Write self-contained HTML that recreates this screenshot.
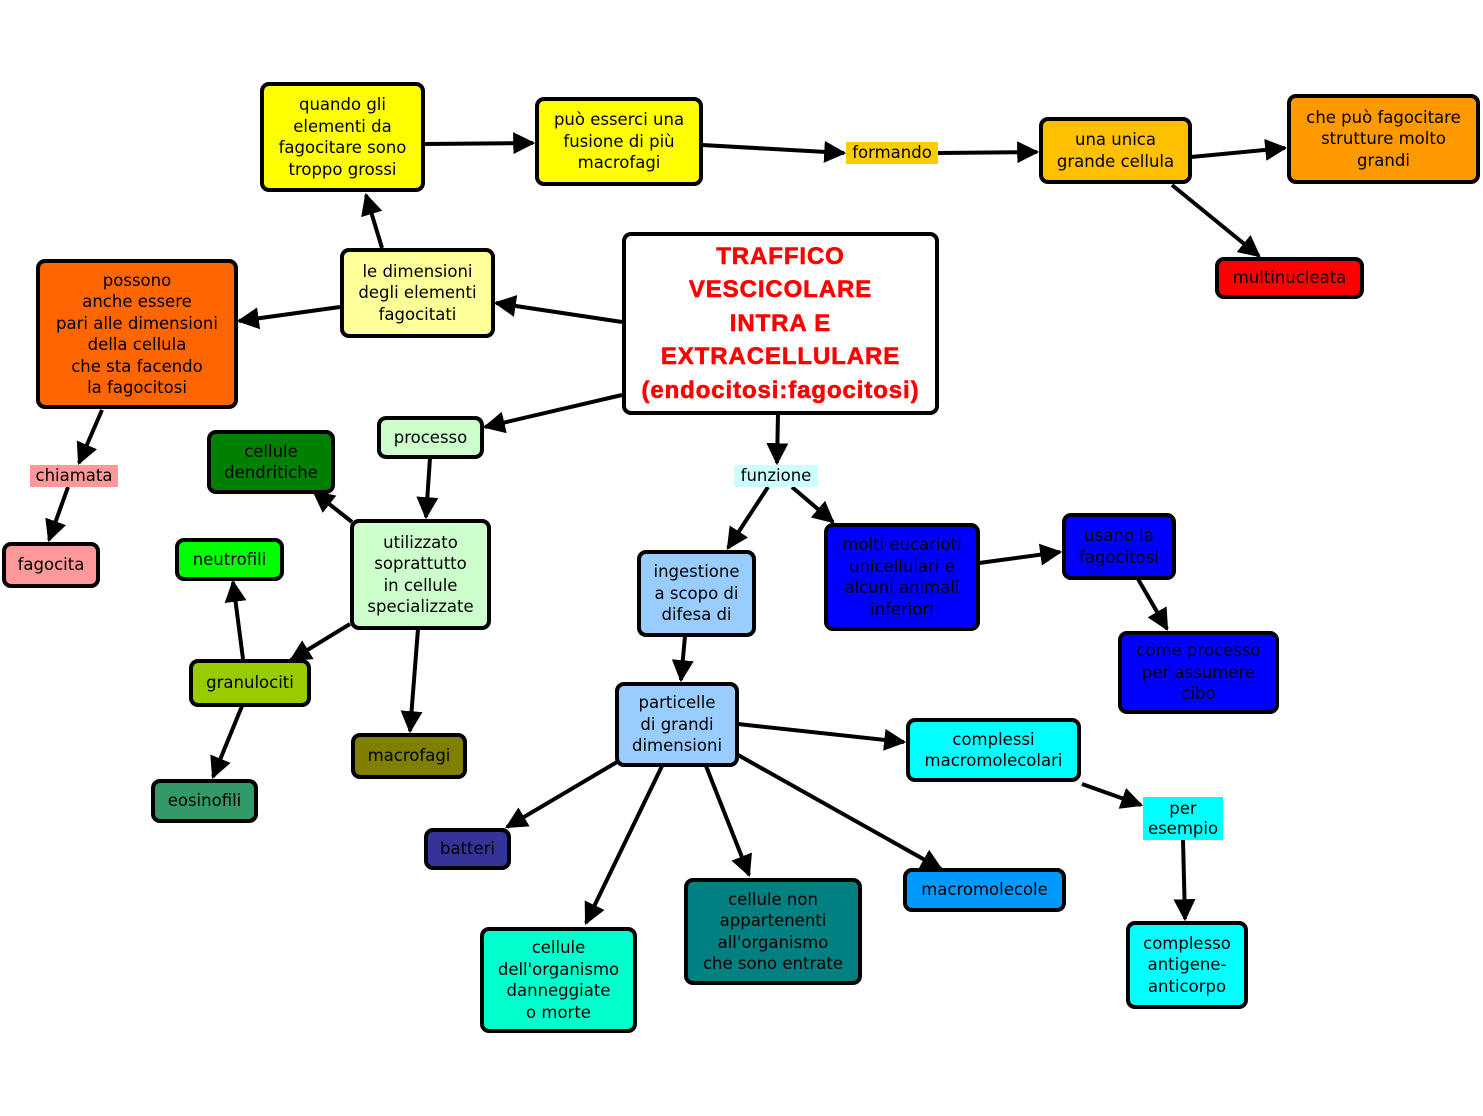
<!DOCTYPE html>
<html><head><meta charset="utf-8"><style>
html,body{margin:0;padding:0;background:#fff;}
body{width:1483px;height:1116px;position:relative;overflow:hidden;font-family:"DejaVu Sans","Liberation Sans",sans-serif;}
.n{position:absolute;box-sizing:border-box;border:4px solid #000;border-radius:9px;display:flex;align-items:center;justify-content:center;text-align:center;font-size:16.5px;line-height:21.5px;color:#000;}
.l{position:absolute;display:flex;align-items:center;justify-content:center;text-align:center;font-size:16.5px;line-height:20px;color:#000;}
svg{position:absolute;left:0;top:0;}
</style></head><body>
<svg width="1483" height="1116">
<defs><marker id="a" viewBox="0 0 10 10" refX="9" refY="5" markerWidth="5.5" markerHeight="5.5" orient="auto" markerUnits="strokeWidth"><path d="M0,0 L10,5 L0,10 z" fill="#000"/></marker></defs>
<g stroke="#000" stroke-width="4" fill="none" marker-end="url(#a)">
<line x1="424" y1="144" x2="533" y2="143"/>
<line x1="702" y1="145" x2="844" y2="153"/>
<line x1="938" y1="153" x2="1037" y2="152"/>
<line x1="1191" y1="157" x2="1285" y2="148"/>
<line x1="1172" y1="185" x2="1259" y2="256"/>
<line x1="382" y1="248" x2="366" y2="195"/>
<line x1="622" y1="322" x2="496" y2="303"/>
<line x1="340" y1="307" x2="239" y2="321"/>
<line x1="102" y1="410" x2="79" y2="463"/>
<line x1="68" y1="487" x2="49" y2="540"/>
<line x1="622" y1="395" x2="485" y2="427"/>
<line x1="430" y1="458" x2="426" y2="517"/>
<line x1="352" y1="522" x2="314" y2="492"/>
<line x1="350" y1="624" x2="291" y2="660"/>
<line x1="418" y1="629" x2="410" y2="731"/>
<line x1="243" y1="659" x2="233" y2="582"/>
<line x1="242" y1="706" x2="213" y2="777"/>
<line x1="778" y1="414" x2="777" y2="463"/>
<line x1="768" y1="487" x2="728" y2="548"/>
<line x1="792" y1="487" x2="833" y2="522"/>
<line x1="979" y1="563" x2="1060" y2="552"/>
<line x1="1138" y1="579" x2="1167" y2="629"/>
<line x1="685" y1="636" x2="681" y2="680"/>
<line x1="738" y1="724" x2="904" y2="742"/>
<line x1="1082" y1="784" x2="1141" y2="805"/>
<line x1="1183" y1="840" x2="1185" y2="919"/>
<line x1="617" y1="762" x2="507" y2="827"/>
<line x1="662" y1="766" x2="586" y2="923"/>
<line x1="706" y1="766" x2="749" y2="875"/>
<line x1="738" y1="755" x2="941" y2="869"/>
</g></svg>

<div class="n" style="left:260px;top:82px;width:165px;height:110px;background:#ffff00">quando gli<br>elementi da<br>fagocitare sono<br>troppo grossi</div>
<div class="n" style="left:535px;top:97px;width:168px;height:89px;background:#ffff00">può esserci una<br>fusione di più<br>macrofagi</div>
<div class="l" style="left:846px;top:142px;width:92px;height:22px;background:#ffcc00">formando</div>
<div class="n" style="left:1039px;top:117px;width:153px;height:67px;background:#ffc000">una unica<br>grande cellula</div>
<div class="n" style="left:1287px;top:94px;width:193px;height:90px;background:#ff9900">che può fagocitare<br>strutture molto<br>grandi</div>
<div class="n" style="left:1215px;top:257px;width:149px;height:42px;background:#ff0000">multinucleata</div>
<div class="n" style="left:622px;top:232px;width:317px;height:183px;background:#fff;color:#ff0000;font-family:'Liberation Sans',sans-serif;font-weight:bold;font-size:24px;letter-spacing:0.9px;-webkit-text-stroke:0.6px #ff0000;line-height:33.5px">TRAFFICO<br>VESCICOLARE<br>INTRA E<br>EXTRACELLULARE<br>(endocitosi:fagocitosi)</div>
<div class="n" style="left:340px;top:248px;width:155px;height:90px;background:#ffff99">le dimensioni<br>degli elementi<br>fagocitati</div>
<div class="n" style="left:36px;top:259px;width:202px;height:150px;background:#ff6600">possono<br>anche essere<br>pari alle dimensioni<br>della cellula<br>che sta facendo<br>la fagocitosi</div>
<div class="l" style="left:30px;top:465px;width:88px;height:22px;background:#ff9999">chiamata</div>
<div class="n" style="left:2px;top:542px;width:98px;height:46px;background:#ff9999">fagocita</div>
<div class="n" style="left:377px;top:416px;width:107px;height:43px;background:#ccffcc">processo</div>
<div class="n" style="left:207px;top:430px;width:128px;height:64px;background:#008000">cellule<br>dendritiche</div>
<div class="n" style="left:350px;top:519px;width:141px;height:111px;background:#ccffcc">utilizzato<br>soprattutto<br>in cellule<br>specializzate</div>
<div class="n" style="left:175px;top:538px;width:109px;height:43px;background:#00ff00">neutrofili</div>
<div class="n" style="left:189px;top:659px;width:122px;height:48px;background:#99cc00">granulociti</div>
<div class="n" style="left:351px;top:733px;width:116px;height:46px;background:#808000">macrofagi</div>
<div class="n" style="left:151px;top:779px;width:107px;height:44px;background:#339966">eosinofili</div>
<div class="l" style="left:734px;top:465px;width:84px;height:22px;background:#ccffff">funzione</div>
<div class="n" style="left:637px;top:550px;width:119px;height:87px;background:#99ccff">ingestione<br>a scopo di<br>difesa di</div>
<div class="n" style="left:824px;top:523px;width:156px;height:108px;background:#0000ff">molti eucarioti<br>unicellulari e<br>alcuni animali<br>inferiori</div>
<div class="n" style="left:1062px;top:513px;width:114px;height:67px;background:#0000ff">usano la<br>fagocitosi</div>
<div class="n" style="left:1118px;top:631px;width:161px;height:83px;background:#0000ff">come processo<br>per assumere<br>cibo</div>
<div class="n" style="left:615px;top:682px;width:124px;height:85px;background:#99ccff">particelle<br>di grandi<br>dimensioni</div>
<div class="n" style="left:906px;top:718px;width:175px;height:64px;background:#00ffff">complessi<br>macromolecolari</div>
<div class="l" style="left:1143px;top:797px;width:80px;height:43px;background:#00ffff">per<br>esempio</div>
<div class="n" style="left:1126px;top:921px;width:122px;height:88px;background:#00ffff">complesso<br>antigene-<br>anticorpo</div>
<div class="n" style="left:424px;top:828px;width:87px;height:42px;background:#333399">batteri</div>
<div class="n" style="left:480px;top:927px;width:157px;height:106px;background:#00ffcc">cellule<br>dell'organismo<br>danneggiate<br>o morte</div>
<div class="n" style="left:684px;top:878px;width:178px;height:107px;background:#008080">cellule non<br>appartenenti<br>all'organismo<br>che sono entrate</div>
<div class="n" style="left:903px;top:868px;width:163px;height:44px;background:#0099ff">macromolecole</div>
</body></html>
